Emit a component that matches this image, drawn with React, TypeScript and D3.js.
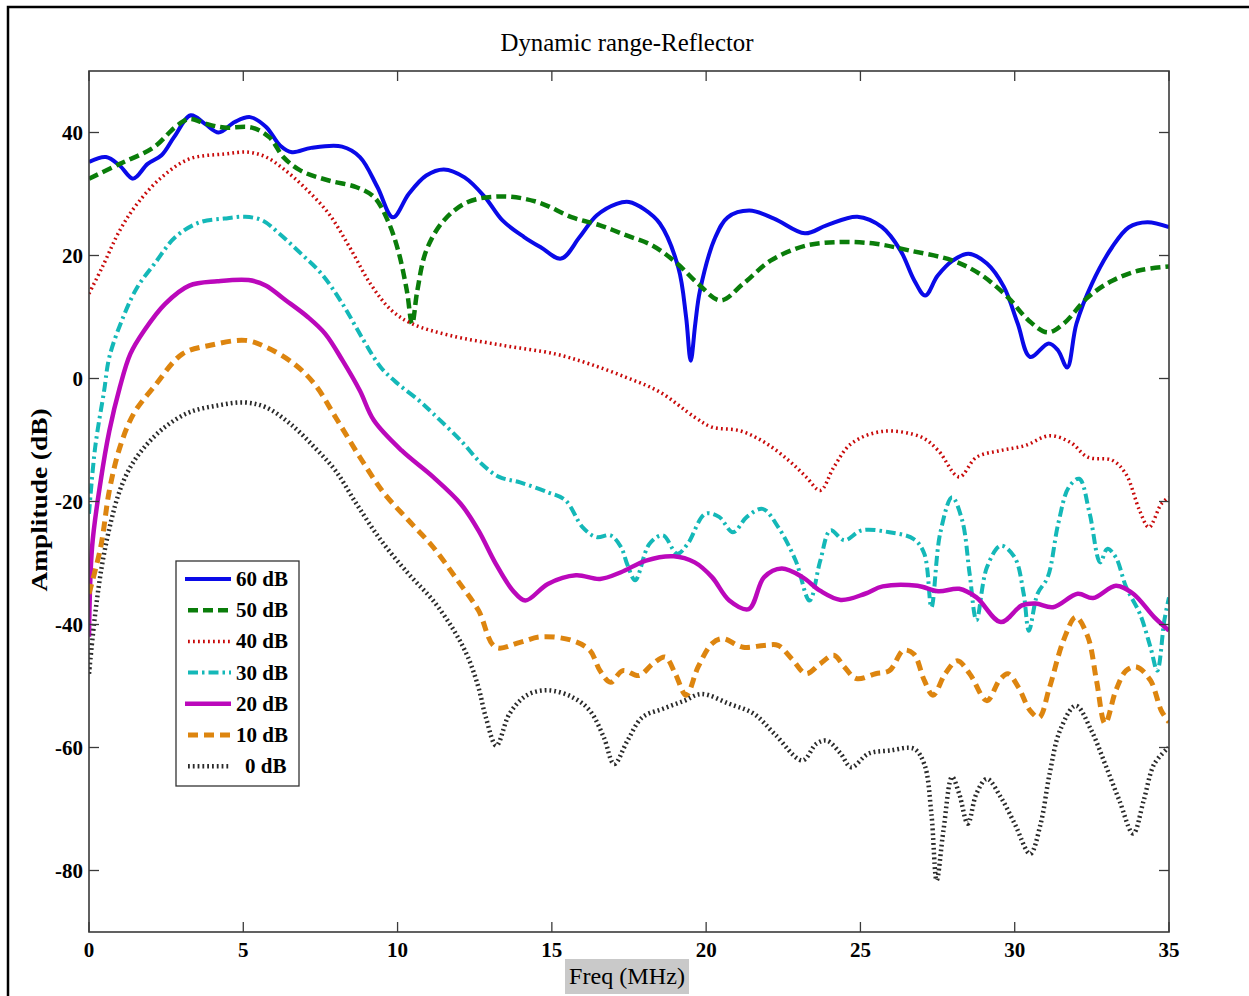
import React from 'react';
import * as d3 from 'd3';

type Pt = [number, number];

const xTickValues = [0, 5, 10, 15, 20, 25, 30, 35];
const yTickValues = [-80, -60, -40, -20, 0, 20, 40];
const seriesLabels = ['60 dB', '50 dB', '40 dB', '30 dB', '20 dB', '10 dB', '0 dB'];

const s60: Pt[] = [[0,35.2],[0.55,36],[1.0,34.6],[1.43,32.5],[1.9,34.9],[2.35,36.3],[2.75,39.2],[3.3,42.8],[3.76,41.4],[4.2,40],[4.72,41.7],[5.22,42.5],[5.74,40.9],[6.19,37.9],[6.58,36.8],[7.2,37.5],[8.2,37.7],[8.78,36],[9.35,31.1],[9.85,26.2],[10.36,30],[10.93,33],[11.5,34],[12.17,32.7],[12.83,29.5],[13.4,25.7],[14.1,23],[14.65,21.3],[15.3,19.5],[15.9,23],[16.45,26.5],[17.1,28.4],[17.5,28.7],[18.0,27.5],[18.5,25.2],[19.1,18],[19.35,10],[19.5,2.9],[19.65,9],[19.8,14.3],[20.3,23],[20.7,26.2],[21.4,27.3],[22.2,26],[23.2,23.6],[23.9,24.9],[24.9,26.3],[25.7,24.6],[26.3,20.8],[26.75,15.9],[27.1,13.5],[27.5,16.7],[28.0,19.2],[28.5,20.3],[29.1,18.7],[29.65,14.9],[30.1,8.9],[30.5,3.5],[31.1,5.7],[31.4,4.6],[31.7,1.8],[32.0,8.9],[32.5,15.4],[33.15,21.3],[33.7,24.6],[34.3,25.4],[35,24.6]];

const s50: Pt[] = [[0,32.5],[1.0,34.9],[2.1,37.6],[2.8,40.9],[3.25,42.2],[3.8,41.4],[4.38,40.8],[5.28,40.8],[5.85,39.2],[6.3,36],[6.86,33.8],[7.77,32.2],[8.67,31.1],[9.24,29.5],[9.68,25.7],[10.02,20.8],[10.3,14.3],[10.47,8.9],[10.64,14.3],[10.93,20.8],[11.5,25.7],[12.28,28.7],[13.4,29.6],[14.53,28.7],[15.66,26.2],[16.56,24.9],[17.4,23.3],[18.27,21.6],[19.06,18.7],[19.74,15.4],[20.47,12.7],[21.2,15.4],[22.1,19.2],[23.23,21.6],[24.36,22.2],[25.5,21.9],[26.6,20.8],[27.97,19.2],[28.87,17],[29.78,13.2],[30.46,9.4],[31.07,7.5],[31.58,8.9],[32.37,13.2],[33.16,15.9],[34.06,17.6],[35,18.2]];

const s40: Pt[] = [[0,13.8],[0.43,18.1],[1.0,24.1],[1.56,28.4],[2.35,32.7],[3.25,35.7],[4.38,36.5],[5.17,36.8],[5.74,36],[6.3,34.1],[6.98,31.1],[7.77,26.8],[8.44,21.4],[9.12,15.4],[9.8,11.1],[10.47,8.9],[11.7,7],[13.4,5.4],[15.1,4],[16.2,2.4],[17.4,0.2],[18.5,-2.2],[19.63,-6.3],[20.19,-7.9],[21.1,-8.5],[21.9,-10.4],[22.67,-13.3],[23.24,-16],[23.7,-18.2],[24.14,-14.4],[24.7,-10.6],[25.72,-8.6],[26.96,-9.5],[27.52,-11.7],[28.2,-16],[28.76,-12.8],[29.55,-11.7],[30.34,-10.9],[31.13,-9.3],[31.81,-10.4],[32.37,-12.8],[33.16,-13.3],[33.6,-15.5],[34.05,-21.5],[34.35,-24.2],[34.75,-20.4],[35,-19.3]];

const s30: Pt[] = [[0,-22],[0.2,-11.2],[0.49,-2],[0.66,3.5],[1.11,10],[1.56,14.8],[2.13,18.7],[2.8,23],[3.59,25.4],[4.38,26],[5.06,26.3],[5.62,25.7],[6.18,23.5],[6.87,20.3],[7.54,17],[8.22,12.1],[8.9,6.2],[9.46,1.8],[10.02,-0.9],[10.7,-3.6],[11.15,-5.7],[12.05,-10.1],[12.73,-13.9],[13.29,-16],[13.97,-16.9],[14.87,-18.5],[15.44,-19.8],[16,-24.2],[16.45,-25.8],[16.9,-25.5],[17.24,-27.4],[17.45,-30.3],[17.7,-32.8],[18.16,-26.9],[18.6,-25.5],[19.06,-28.5],[19.4,-26.9],[19.97,-22],[20.42,-22.5],[20.87,-25],[21.32,-22.5],[21.83,-21.2],[22.34,-24.2],[22.9,-29.6],[23.35,-36.1],[23.7,-29.6],[24.03,-24.7],[24.48,-26.3],[25.04,-24.7],[25.94,-25],[26.73,-26.1],[27.07,-28.5],[27.3,-37.2],[27.58,-25.3],[27.97,-19.3],[28.3,-23.1],[28.54,-31.8],[28.76,-39.3],[29.1,-30.7],[29.55,-27.2],[30,-29.1],[30.29,-35],[30.46,-41],[30.74,-35],[31.07,-32.3],[31.41,-23.6],[31.75,-17.7],[32.09,-16.3],[32.43,-22],[32.77,-29.9],[33,-27.7],[33.28,-29.1],[33.61,-33.9],[34.06,-38.3],[34.4,-43.7],[34.62,-47.5],[34.85,-39.3],[35,-35.6]];

const s20: Pt[] = [[0,-42],[0.1,-27.4],[0.38,-16.6],[0.66,-8.5],[1.0,-1.4],[1.34,4],[1.79,7.8],[2.46,12.1],[3.25,15.1],[4.16,15.8],[5.17,16],[5.74,15.1],[6.3,13],[7.09,10],[7.65,7.3],[8.22,2.9],[8.78,-2],[9.23,-6.8],[10.13,-11.7],[11.15,-16],[12.05,-20.4],[12.62,-24.7],[13.18,-30.1],[13.74,-34.5],[14.14,-36.1],[14.87,-33.4],[15.78,-32],[16.56,-32.6],[17.24,-31.5],[18.05,-29.6],[18.95,-28.9],[19.63,-29.9],[20.19,-32.3],[20.75,-36.1],[21.38,-37.5],[21.88,-32.3],[22.45,-30.9],[23.12,-32.3],[23.69,-34.5],[24.36,-36],[25.15,-35],[25.72,-33.8],[26.85,-33.7],[27.52,-34.6],[28.2,-34.2],[28.76,-35.6],[29.55,-39.6],[30.23,-36.9],[30.68,-36.6],[31.24,-37.2],[32.04,-35],[32.54,-35.7],[33.28,-33.7],[33.84,-35],[34.52,-38.8],[35,-41]];

const s10: Pt[] = [[0,-35],[0.38,-27.4],[0.66,-18.2],[1.0,-11.2],[1.45,-5.7],[2.13,-1.2],[3.03,4],[3.93,5.4],[5.06,6.2],[5.74,5.1],[6.64,2.4],[7.31,-0.9],[7.99,-6.3],[8.78,-12.8],[9.57,-18.7],[10.36,-23.1],[11.15,-27.4],[11.94,-32.8],[12.62,-37.7],[13.18,-43.7],[13.97,-42.9],[14.65,-42],[15.66,-42.6],[16.23,-44.2],[16.56,-47.5],[16.9,-49.4],[17.3,-47.5],[17.82,-48.3],[18.27,-46.4],[18.67,-45.3],[19,-48],[19.35,-51.5],[19.74,-46.9],[20.19,-43.1],[20.53,-42.3],[21.2,-43.7],[21.88,-43.4],[22.33,-43.4],[22.78,-45.6],[23.24,-48],[23.69,-46.4],[24.14,-45],[24.48,-46.9],[24.87,-48.8],[25.49,-48],[25.94,-47.5],[26.4,-44.2],[26.73,-44.8],[27.07,-49.1],[27.35,-51.5],[27.75,-48],[28.14,-45.9],[28.54,-48],[29.1,-52.4],[29.5,-49.1],[29.78,-48],[30.12,-50.2],[30.5,-54],[30.79,-55.1],[31.13,-50.2],[31.58,-42.6],[31.98,-38.8],[32.37,-42],[32.65,-49.1],[32.93,-56.1],[33.28,-50.7],[33.61,-47.5],[33.95,-46.9],[34.4,-49.1],[34.75,-54],[35,-55.9]];

const s0: Pt[] = [[0,-48],[0.2,-38.3],[0.43,-30.1],[0.72,-23.1],[1.0,-18.2],[1.34,-14.4],[1.79,-11.2],[2.46,-7.9],[3.25,-5.5],[4.16,-4.4],[5.06,-3.9],[5.74,-4.7],[6.53,-7.4],[7.31,-11.2],[7.99,-15],[8.67,-20.4],[9.46,-26.3],[10.36,-31.8],[11.15,-36.1],[11.83,-41],[12.28,-45.3],[12.62,-50.2],[12.86,-55.1],[13.2,-59.7],[13.63,-54.5],[14.19,-51.5],[14.87,-50.7],[15.66,-51.8],[16.23,-54],[16.68,-58.3],[17.02,-62.7],[17.45,-58.9],[17.93,-55.1],[18.6,-53.7],[19.29,-52.4],[19.85,-51.3],[20.75,-52.9],[21.54,-54.5],[22.22,-57.8],[23.12,-62.1],[23.57,-59.4],[23.91,-58.9],[24.36,-61],[24.7,-63.2],[25.26,-61],[25.94,-60.5],[26.73,-60.2],[27.07,-62.7],[27.3,-70.8],[27.47,-81.6],[27.69,-73.5],[27.97,-64.8],[28.2,-67.5],[28.48,-72.4],[28.76,-67.5],[29.1,-65.1],[29.55,-68.1],[30,-72.4],[30.5,-77.3],[30.84,-72.4],[31.13,-64.3],[31.47,-57.2],[31.98,-53.2],[32.48,-57.2],[32.93,-62.7],[33.39,-68.6],[33.84,-74],[34.18,-68.6],[34.52,-62.7],[34.98,-60]];

const seriesData: Pt[][] = [s60, s50, s40, s30, s20, s10, s0];

const styles = [
  { color: '#0a0ae8', width: 4, dash: '' },
  { color: '#0a7d0a', width: 4.5, dash: '10,5' },
  { color: '#c80a0a', width: 3.5, dash: '1.8,3.2' },
  { color: '#14b8b8', width: 4, dash: '10,4,2.5,4' },
  { color: '#bb08bb', width: 4.5, dash: '' },
  { color: '#dd850f', width: 5, dash: '10,6' },
  { color: '#2a2a2a', width: 4.5, dash: '1.8,3' },
];

const FONT = '"Liberation Serif", "Times New Roman", serif';

export default function App() {
  const x = d3.scaleLinear().domain([0, 35]).range([89, 1169]);
  const y = d3.scaleLinear().domain([-90, 50]).range([932, 71]);
  const line = d3
    .line<Pt>()
    .x((d) => x(d[0]))
    .y((d) => y(d[1]))
    .curve(d3.curveCatmullRom.alpha(0.5));

  const [x0, x1] = x.range();
  const [y0, y1] = y.range();
  const axisColor = '#3a3a3a';
  const tickLen = 10;

  const legendX = 176, legendY = 561, legendW = 123, legendH = 225;
  const rowY = (i: number) => 579 + i * 31.2;

  return (
    <svg
      width={1249}
      height={996}
      style={{ position: 'absolute', left: 0, top: 0, background: '#fff' }}
      fontFamily={FONT}
    >
      <rect x={0} y={0} width={1249} height={996} fill="#fff" />
      <rect x={8} y={7} width={1300} height={1100} fill="none" stroke="#000" strokeWidth={2.5} />

      <defs>
        <clipPath id="plotclip">
          <rect x={x0} y={y1} width={x1 - x0} height={y0 - y1} />
        </clipPath>
      </defs>

      <text x={627} y={51} fontSize={26} textAnchor="middle" textLength={253} lengthAdjust="spacingAndGlyphs" fill="#000">
        Dynamic range-Reflector
      </text>

      <g clipPath="url(#plotclip)">
        {seriesData.map((data, i) => (
          <path
            key={seriesLabels[i]}
            d={line(data) || ''}
            fill="none"
            stroke={styles[i].color}
            strokeWidth={styles[i].width}
            strokeDasharray={styles[i].dash || undefined}
            strokeLinejoin="round"
          />
        ))}
      </g>

      <rect x={x0} y={y1} width={x1 - x0} height={y0 - y1} fill="none" stroke={axisColor} strokeWidth={1.6} />

      {xTickValues.map((v) => (
        <g key={'x' + v}>
          <line x1={x(v)} x2={x(v)} y1={y0} y2={y0 - tickLen} stroke={axisColor} strokeWidth={1.3} />
          <line x1={x(v)} x2={x(v)} y1={y1} y2={y1 + tickLen} stroke={axisColor} strokeWidth={1.3} />
          <text x={x(v)} y={957} fontSize={21} fontWeight="bold" textAnchor="middle" fill="#000">
            {v}
          </text>
        </g>
      ))}

      {yTickValues.map((v) => (
        <g key={'y' + v}>
          <line x1={x0} x2={x0 + tickLen} y1={y(v)} y2={y(v)} stroke={axisColor} strokeWidth={1.3} />
          <line x1={x1} x2={x1 - tickLen} y1={y(v)} y2={y(v)} stroke={axisColor} strokeWidth={1.3} />
          <text x={83} y={y(v) + 7} fontSize={21} fontWeight="bold" textAnchor="end" fill="#000">
            {v}
          </text>
        </g>
      ))}

      <rect x={565} y={959} width={124} height={35} fill="#c9c9c9" />
      <text x={627} y={984} fontSize={24} textAnchor="middle" textLength={116} lengthAdjust="spacingAndGlyphs" fill="#000">
        Freq (MHz)
      </text>

      <text
        transform={`translate(47,500) rotate(-90)`}
        fontSize={23}
        fontWeight="bold"
        textAnchor="middle"
        textLength={183}
        lengthAdjust="spacingAndGlyphs"
        fill="#000"
      >
        Amplitude (dB)
      </text>

      <rect x={legendX} y={legendY} width={legendW} height={legendH} fill="#fff" stroke="#333" strokeWidth={1.3} />
      {seriesLabels.map((label, i) => (
        <g key={'lg' + label}>
          <line
            x1={185}
            x2={231}
            y1={rowY(i)}
            y2={rowY(i)}
            stroke={styles[i].color}
            strokeWidth={styles[i].width}
            strokeDasharray={styles[i].dash || undefined}
            strokeDashoffset={styles[i].dash ? -3 : 0}
          />
          <text x={label.length < 5 ? 245 : 236} y={rowY(i) + 7} fontSize={21} fontWeight="bold" fill="#000">
            {label}
          </text>
        </g>
      ))}
    </svg>
  );
}
